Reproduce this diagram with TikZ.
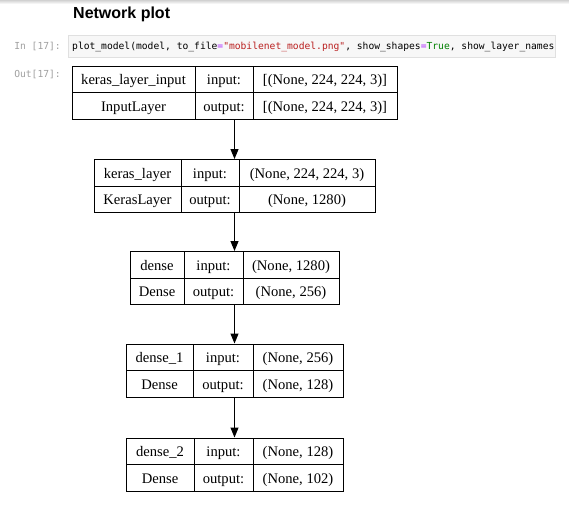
\documentclass[tikz,border=0pt]{standalone}
\usepackage{fontspec}
\setmainfont{Liberation Serif}
\setsansfont{Liberation Sans}
\setmonofont{DejaVu Sans Mono}
\usetikzlibrary{arrows.meta}
\definecolor{cell_bg}{HTML}{F7F7F7}
\definecolor{cell_line}{HTML}{E0E0E0}
\definecolor{prompt_gray}{HTML}{A0A0A0}
\definecolor{code_op}{HTML}{AA22FF}
\definecolor{code_str}{HTML}{BA2121}
\definecolor{code_kw}{HTML}{008000}
\tikzstyle{cell}=[rectangle,draw=black,line width=1pt,inner sep=0pt,
  text height=12pt,text depth=1pt,minimum height=26.5pt,
  font=\fontsize{14.6}{17}\selectfont]
\tikzstyle{layer}=[rectangle,draw=black,line width=1pt,inner sep=0pt,
  minimum height=53pt]
\tikzstyle{prompt}=[anchor=base east,inner sep=0pt,text=prompt_gray,
  font=\ttfamily\fontsize{9.65}{12}\selectfont]
\tikzstyle{code}=[anchor=base west,inner sep=0pt,
  font=\ttfamily\fontsize{9.65}{12}\selectfont]
\tikzstyle{codebox}=[rectangle,fill=cell_bg,draw=cell_line,line width=0.8pt,
  inner sep=0pt,minimum width=487pt,minimum height=22pt]
\tikzstyle{flow}=[-{Triangle[length=10pt,width=8pt]},line width=1pt]
\tikzstyle{none}=[]

\begin{document}
\begin{tikzpicture}[x=1pt,y=-1pt]
            \fill [white] (0,0) rectangle (569,514);
            \useasboundingbox (0,0) rectangle (569,514);
            \shade [top color=black!18,bottom color=white] (0,0) rectangle (569,4);
            % notebook cell
            \node [anchor=base west,inner sep=0pt,font=\sffamily\bfseries\fontsize{16}{19}\selectfont] (0) at (73, 18.5) {Network plot};
            \node [style=prompt] (1) at (61, 49.5) {In [17]:};
            \node [style=codebox] (2) at (311.5, 46) {};
            \node [style=code] (3) at (72, 49.5) {plot\_model(model, to\_file{\color{code_op}=}{\color{code_str}"mobilenet\_model.png"}, show\_shapes{\color{code_op}=}{\color{code_kw}True}, show\_layer\_names};
            \node [style=prompt] (4) at (61, 77.5) {Out[17]:};
            % layers
            \node [style=layer,minimum width=325pt] (10) at (234.5, 92.5) {};
            \node [style=layer,minimum width=281pt] (20) at (234.5, 186) {};
            \node [style=layer,minimum width=209pt] (30) at (234.5, 278) {};
            \node [style=layer,minimum width=217pt] (40) at (234.5, 370.5) {};
            \node [style=layer,minimum width=217pt] (50) at (234.5, 464.5) {};
            % keras_layer_input
            \node [style=cell,minimum width=123pt] (11) at (133.5, 79.25) {keras\_layer\_input};
            \node [style=cell,minimum width=58pt] (12) at (224, 79.25) {input:};
            \node [style=cell,minimum width=144pt] (13) at (325, 79.25) {[(None, 224, 224, 3)]};
            \node [style=cell,minimum width=123pt] (14) at (133.5, 105.75) {InputLayer};
            \node [style=cell,minimum width=58pt] (15) at (224, 105.75) {output:};
            \node [style=cell,minimum width=144pt] (16) at (325, 105.75) {[(None, 224, 224, 3)]};
            % keras_layer
            \node [style=cell,minimum width=87pt] (21) at (137.5, 172.75) {keras\_layer};
            \node [style=cell,minimum width=58pt] (22) at (210, 172.75) {input:};
            \node [style=cell,minimum width=136pt] (23) at (307, 172.75) {(None, 224, 224, 3)};
            \node [style=cell,minimum width=87pt] (24) at (137.5, 199.25) {KerasLayer};
            \node [style=cell,minimum width=58pt] (25) at (210, 199.25) {output:};
            \node [style=cell,minimum width=136pt] (26) at (307, 199.25) {(None, 1280)};
            % dense
            \node [style=cell,minimum width=54pt] (31) at (157, 264.75) {dense};
            \node [style=cell,minimum width=59pt] (32) at (213.5, 264.75) {input:};
            \node [style=cell,minimum width=96pt] (33) at (291, 264.75) {(None, 1280)};
            \node [style=cell,minimum width=54pt] (34) at (157, 291.25) {Dense};
            \node [style=cell,minimum width=59pt] (35) at (213.5, 291.25) {output:};
            \node [style=cell,minimum width=96pt] (36) at (291, 291.25) {(None, 256)};
            % dense_1
            \node [style=cell,minimum width=67pt] (41) at (159.5, 357.25) {dense\_1};
            \node [style=cell,minimum width=60pt] (42) at (223, 357.25) {input:};
            \node [style=cell,minimum width=90pt] (43) at (298, 357.25) {(None, 256)};
            \node [style=cell,minimum width=67pt] (44) at (159.5, 383.75) {Dense};
            \node [style=cell,minimum width=60pt] (45) at (223, 383.75) {output:};
            \node [style=cell,minimum width=90pt] (46) at (298, 383.75) {(None, 128)};
            % dense_2
            \node [style=cell,minimum width=68pt] (51) at (160, 451.25) {dense\_2};
            \node [style=cell,minimum width=59pt] (52) at (223.5, 451.25) {input:};
            \node [style=cell,minimum width=90pt] (53) at (298, 451.25) {(None, 128)};
            \node [style=cell,minimum width=68pt] (54) at (160, 477.75) {Dense};
            \node [style=cell,minimum width=59pt] (55) at (223.5, 477.75) {output:};
            \node [style=cell,minimum width=90pt] (56) at (298, 477.75) {(None, 102)};
            \draw [style=flow] (10) to (20);
            \draw [style=flow] (20) to (30);
            \draw [style=flow] (30) to (40);
            \draw [style=flow] (40) to (50);
\end{tikzpicture}
\end{document}
